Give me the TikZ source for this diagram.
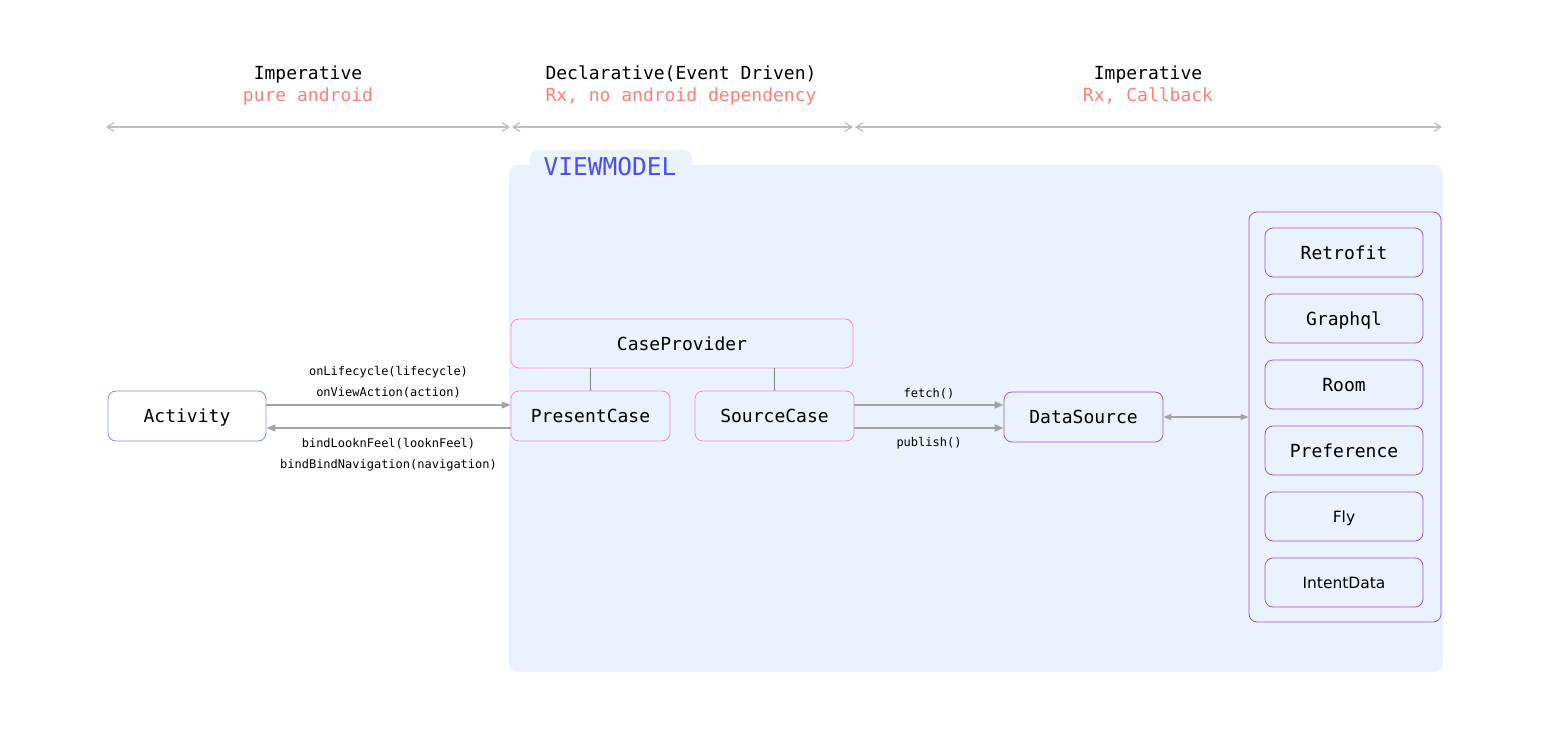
\documentclass[tikz,border=0pt]{standalone}
\usepackage{fontspec}
\setmainfont{DejaVu Sans}
\setsansfont{DejaVu Sans}
\setmonofont{DejaVu Sans Mono}
\usetikzlibrary{arrows.meta}
\definecolor{vmfill}{HTML}{EAF2FE}
\definecolor{vmblue}{HTML}{4B4BFF}
\definecolor{salmon}{HTML}{FF7F7F}
\definecolor{actline}{HTML}{7F8EE0}
\definecolor{caseline}{HTML}{FF8AC8}
\definecolor{dataline}{HTML}{9B55D2}
\definecolor{wire}{HTML}{A3A3A3}
\definecolor{rule}{HTML}{BDBDBD}
\begin{document}
\begin{tikzpicture}[x=1pt,y=-1pt,
    box/.style={draw, rounded corners=8pt, minimum width=158pt, minimum height=50pt,
      inner sep=0pt, line width=0.8pt, text height=13.5pt, text depth=0pt,
      font=\ttfamily\fontsize{18}{20}\selectfont},
    casebox/.style={box, draw=caseline, fill=vmfill},
    storebox/.style={box, draw=dataline, fill=vmfill, minimum height=49pt},
    plainbox/.style={storebox, text height=11pt, font=\sffamily\fontsize{15.5}{18}\selectfont},
    title/.style={anchor=base, font=\ttfamily\fontsize{18}{20}\selectfont},
    subtitle/.style={title, text=salmon},
    call/.style={font=\ttfamily\fontsize{12}{21}\selectfont, align=center},
    flow/.style={draw=wire, line width=1.5pt, -{Triangle[length=9pt,width=7pt]}},
    span/.style={draw=rule, line width=1.2pt, {Straight Barb[length=7pt,width=9pt]}-{Straight Barb[length=7pt,width=9pt]}, shorten <=1pt, shorten >=1pt}]
  \useasboundingbox (0,0) rectangle (1549,733);

  % layers on top
  \coordinate (m0) at (105,127);
  \coordinate (m1) at (511,127);
  \coordinate (m2) at (854,127);
  \coordinate (m3) at (1443,127);
  \draw[span] (m0) -- (m1);
  \draw[span] (m1) -- (m2);
  \draw[span] (m2) -- (m3);
  \node[title] (hA) at (308,80) {Imperative};
  \node[subtitle] (sA) at (308,102) {pure android};
  \node[title] (hB) at (681,80) {Declarative(Event Driven)};
  \node[subtitle] (sB) at (681,102) {Rx, no android dependency};
  \node[title] (hC) at (1148,80) {Imperative};
  \node[subtitle] (sC) at (1148,102) {Rx, Callback};

  % viewmodel area
  \fill[vmfill, rounded corners=8pt] (530,150) rectangle (692,185);
  \fill[vmfill, rounded corners=8pt] (509,165) rectangle (1443,672);
  \node[anchor=base, text=vmblue, font=\ttfamily\fontsize{24.5}{26}\selectfont] (vm) at (610,175) {VIEWMODEL};

  \node[box, draw=actline, fill=white] (activity) at (187,416) {Activity};
  \node[casebox, minimum width=342pt, minimum height=49pt] (provider) at (682,343.5) {CaseProvider};
  \node[casebox, minimum width=159pt] (present) at (590.5,416) {PresentCase};
  \node[casebox, minimum width=159pt] (source) at (774.5,416) {SourceCase};
  \node[box, draw=dataline, fill=vmfill, minimum width=159pt] (datasource) at (1083.5,417) {DataSource};

  \node[draw=dataline, fill=vmfill, rounded corners=8pt, line width=0.8pt,
    minimum width=192pt, minimum height=410pt] (stores) at (1345,417) {};
  \node[storebox] (retrofit) at (1344,252.5) {Retrofit};
  \node[storebox] (graphql) at (1344,318.5) {Graphql};
  \node[storebox] (room) at (1344,384.5) {Room};
  \node[storebox] (preference) at (1344,450.5) {Preference};
  \node[plainbox] (fly) at (1344,516.5) {Fly};
  \node[plainbox] (intent) at (1344,582.5) {IntentData};

  % wiring
  \draw[draw=gray, line width=0.8pt] (present.north) -- (present.north |- provider.south);
  \draw[draw=gray, line width=0.8pt] (source.north) -- (source.north |- provider.south);
  \draw[flow] ([yshift=11pt]activity.east) -- ([yshift=11pt]present.west)
    node[call, midway, above=3pt] (inLbl) {onLifecycle(lifecycle)\\onViewAction(action)};
  \draw[flow] ([yshift=-12pt]present.west) -- ([yshift=-12pt]activity.east)
    node[call, midway, below=6pt] (outLbl) {bindLooknFeel(looknFeel)\\bindBindNavigation(navigation)};
  \draw[flow] ([yshift=11pt]source.east) -- ([yshift=12pt]datasource.west)
    node[call, midway, above=2pt] (fetchLbl) {fetch()};
  \draw[flow] ([yshift=-12pt]source.east) -- ([yshift=-11pt]datasource.west)
    node[call, midway, below=5pt] (publishLbl) {publish()};
  \draw[flow, line width=1.2pt, {Triangle[length=8pt,width=6pt]}-{Triangle[length=8pt,width=6pt]}]
    (datasource.east) -- (stores.west);
\end{tikzpicture}
\end{document}
